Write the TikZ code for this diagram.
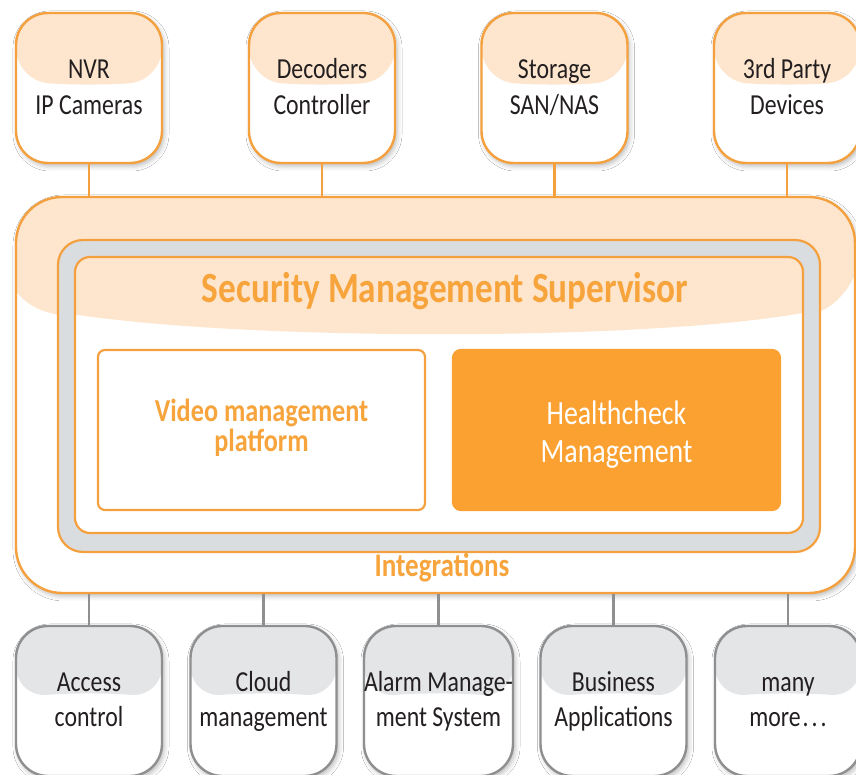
\documentclass[tikz,border=0pt]{standalone}
\usepackage{fontspec}
\setmainfont{Carlito}[FakeStretch=0.82]
\usetikzlibrary{shadows.blur}
\definecolor{oline}{HTML}{F4A03F}
\definecolor{peach}{HTML}{FDE6CD}
\definecolor{ofill}{HTML}{FBA131}
\definecolor{otext}{HTML}{F7A43D}
\definecolor{gline}{HTML}{8E8F91}
\definecolor{gfill}{HTML}{E4E5E7}
\definecolor{ringgray}{HTML}{DADDE0}
\definecolor{txt}{HTML}{231F20}
\begin{document}
\begin{tikzpicture}[x=1pt,y=1pt,
  shad/.style={blur shadow={shadow xshift=2pt,shadow yshift=-3pt,shadow blur radius=5pt,shadow opacity=28}},
  devbox/.style={rounded corners=32pt, minimum width=146pt, minimum height=150pt, inner sep=0pt,
    line width=2.4pt, fill=white, align=center, text=txt, shad},
  topbox/.style={devbox, draw=oline, font=\fontsize{29}{36}\selectfont, text height=54pt, text depth=0pt,
    path picture={\fill[peach]
    ([yshift=-67pt]path picture bounding box.north west) .. controls +(50pt,-5pt) and +(-50pt,-5pt) ..
    ([yshift=-67pt]path picture bounding box.north east) |- (path picture bounding box.north west) -- cycle;}},
  botbox/.style={devbox, draw=gline, font=\fontsize{29}{35}\selectfont, text height=52pt, text depth=0pt,
    path picture={\fill[gfill]
    ([yshift=-72pt]path picture bounding box.north west) .. controls +(50pt,5pt) and +(-50pt,5pt) ..
    ([yshift=-72pt]path picture bounding box.north east) |- (path picture bounding box.north west) -- cycle;}},
  olink/.style={draw=oline, line width=2.4pt},
  glink/.style={draw=gline, line width=2.4pt},
  peachfill/.style={path picture={\fill[peach] (pkA) .. controls (pkB) and (pkC) .. (pkD) -- (pkE) -- (pkF) -- cycle;}},
  framebox/.style={draw=oline, line width=2.2pt, inner sep=0pt}
]
\useasboundingbox (0,0) rectangle (856,775);
\clip (0,0) rectangle (856,775);
\fill[white] (0,0) rectangle (856,775);
\coordinate (pkA) at (0,478);
\coordinate (pkB) at (150,430);
\coordinate (pkC) at (730,430);
\coordinate (pkD) at (860,478);
\coordinate (pkE) at (860,800);
\coordinate (pkF) at (0,800);

% outer integrations frame
\node[framebox, line width=2.4pt, fill=white, rounded corners=46pt, minimum width=839pt, minimum height=396pt, shad, peachfill] (integ) at (435.5,380) {};
\node[framebox, fill=ringgray, rounded corners=25pt, minimum width=762pt, minimum height=312pt] (ring) at (439,379) {};
\node[framebox, fill=white, rounded corners=15pt, minimum width=728pt, minimum height=276pt, peachfill] (sms) at (439,380) {};
\node[font=\bfseries\fontsize{43}{43}\selectfont, text=otext, anchor=base, inner sep=0pt] (title) at (445,472) {Security Management Supervisor};

\node[framebox, fill=white, rounded corners=7pt, minimum width=327pt, minimum height=160pt, align=center,
  text=otext, font=\bfseries\fontsize{32}{30}\selectfont, text height=44pt, text depth=0pt] (vmp) at (261.5,345) {Video management\\platform};
\node[framebox, draw=ofill, fill=ofill, rounded corners=8pt, minimum width=327pt, minimum height=160pt, align=center,
  text=white, font=\fontsize{34}{38}\selectfont, text height=66pt, text depth=0pt] (hcm) at (616.5,345) {Healthcheck\\Management};

\node[font=\bfseries\fontsize{33}{33}\selectfont, text=otext, anchor=base, inner sep=0pt] (intlabel) at (442,198) {Integrations};

% top devices
\node[topbox] (nvr) at (89,687) {NVR\\IP Cameras};
\node[topbox] (dec) at (322,687) {Decoders\\Controller};
\node[topbox] (sto) at (554.5,687) {Storage\\SAN/NAS};
\node[topbox] (trd) at (787,687) {3rd Party\\Devices};

\draw[olink] (nvr.south) -- (nvr.south |- integ.north);
\draw[olink] (dec.south) -- (dec.south |- integ.north);
\draw[olink] (sto.south) -- (sto.south |- integ.north);
\draw[olink] (trd.south) -- (trd.south |- integ.north);

% bottom systems
\node[botbox] (acc) at (89,74) {Access\\control};
\node[botbox] (cld) at (263.5,74) {Cloud\\management};
\node[botbox] (alm) at (438.5,74) {Alarm Manage-\\ment System};
\node[botbox] (bus) at (613.5,74) {Business\\Applications};
\node[botbox] (mny) at (788,74) {many\\more\kern2pt.\kern3pt.\kern3pt.};

\draw[glink] (acc.north) -- (acc.north |- integ.south);
\draw[glink] (cld.north) -- (cld.north |- integ.south);
\draw[glink] (alm.north) -- (alm.north |- integ.south);
\draw[glink] (bus.north) -- (bus.north |- integ.south);
\draw[glink] (mny.north) -- (mny.north |- integ.south);
\end{tikzpicture}
\end{document}
